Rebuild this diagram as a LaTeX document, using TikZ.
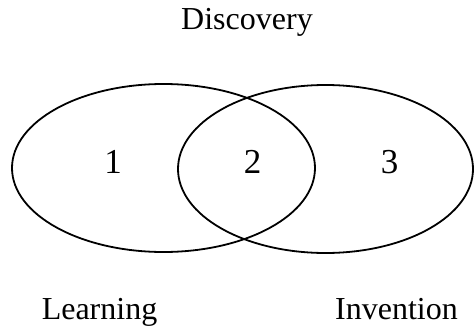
\documentclass[tikz,border=0pt]{standalone}
\usepackage{fontspec}
\setmainfont{Liberation Serif}
\usepackage{tikz}
\usetikzlibrary{positioning}

\tikzset{
  setline/.style={line width=1.8pt},
  setlabel/.style={inner sep=0pt,anchor=base,font=\fontsize{32}{38}\selectfont},
  regionlabel/.style={inner sep=0pt,anchor=base,font=\fontsize{35}{42}\selectfont}
}

\begin{document}
\begin{tikzpicture}[x=1pt,y=-1pt]
              \useasboundingbox (0,0) rectangle (474,329);
              % centres of the two sets
              \coordinate (left) at (163.5,168);
              \coordinate (right) at (325.5,169);
              % Draw the two ellipses
              \draw[setline] (left) ellipse [x radius=151.5, y radius=84];
              \draw[setline] (right) ellipse [x radius=147.5, y radius=84];
              % label the regions
              \node[regionlabel] (one) at (113,173) {1};
              \node[regionlabel] (two) at (252.5,173) {2};
              \node[regionlabel] (three) at (389.5,173) {3};
              % label the sets
              \node[setlabel] (discovery) at (247,30) {Discovery};
              \node[setlabel] (learning) at (99.5,319) {Learning};
              \node[setlabel] (invention) at (396.5,319) {Invention};
          \end{tikzpicture}
\end{document}
